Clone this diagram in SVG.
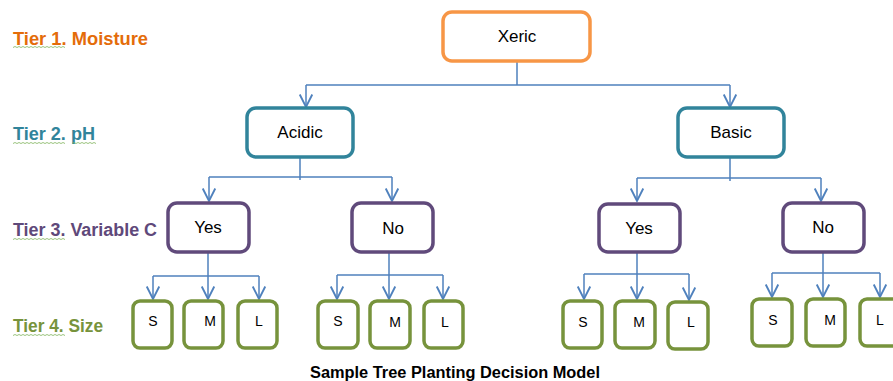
<svg xmlns="http://www.w3.org/2000/svg" width="893" height="381" viewBox="0 0 893 381">
<style>
.bg{fill:#ffffff}
.box{fill:#ffffff;stroke-width:3.5}
.t1{stroke:#F79646}
.t2{stroke:#31849B}
.t3{stroke:#604A7B}
.t4{stroke:#77933C}
.lbl{font-family:"Liberation Sans","Open Sans",sans-serif;font-size:17px;fill:#000;text-anchor:middle}
.sm{font-family:"Liberation Sans","Open Sans",sans-serif;font-size:14px;fill:#000;text-anchor:middle}
.tier{font-family:"Liberation Sans","Open Sans",sans-serif;font-size:17.5px;font-weight:bold}
.cap{font-family:"Liberation Sans","Open Sans",sans-serif;font-size:16px;font-weight:bold;fill:#000}
.con{fill:none;stroke:#4F81BD;stroke-width:1.5}
.arr{fill:none;stroke:#4F81BD;stroke-width:1.5;marker-end:url(#ah)}
.sq{fill:none;stroke:#7FB35A;stroke-width:0.8}
</style>
<defs>
<marker id="ah" markerUnits="userSpaceOnUse" markerWidth="20" markerHeight="20" viewBox="-12 -8 14 16" refX="0" refY="0" orient="auto" overflow="visible">
<path d="M-10,-5 L0,0 L-10,5" fill="none" stroke="#4F81BD" stroke-width="1.5"/>
</marker>
</defs>
<rect class="bg" x="0" y="0" width="893" height="381"/>

<g id="tier-labels">
<text class="tier" x="13" y="45" fill="#E46C0A" textLength="135" lengthAdjust="spacingAndGlyphs">Tier 1. Moisture</text>
<text class="tier" x="13" y="140" fill="#31849B" textLength="82" lengthAdjust="spacingAndGlyphs">Tier 2. pH</text>
<text class="tier" x="13" y="236" fill="#5F497A" textLength="144" lengthAdjust="spacingAndGlyphs">Tier 3. Variable C</text>
<text class="tier" x="13" y="332" fill="#77933C" textLength="90" lengthAdjust="spacingAndGlyphs">Tier 4. Size</text>
<path class="sq" d="M13,47.5 l2,-1 l2,1 l2,-1 l2,1 l2,-1 l2,1 l2,-1 l2,1 l2,-1 l2,1 l2,-1 l2,1 l2,-1 l2,1 l2,-1 l2,1 l2,-1 l2,1 l2,-1 l2,1 l2,-1 l2,1 l2,-1 l2,1 l2,-1 l2,1"/>
<path class="sq" d="M13,143.5 l2,-1 l2,1 l2,-1 l2,1 l2,-1 l2,1 l2,-1 l2,1 l2,-1 l2,1 l2,-1 l2,1 l2,-1 l2,1 l2,-1 l2,1 l2,-1 l2,1 l2,-1 l2,1 l2,-1 l2,1 l2,-1 l2,1 l2,-1 l2,1 M72,143.5 l2,-1 l2,1 l2,-1 l2,1 l2,-1 l2,1 l2,-1 l2,1 l2,-1 l2,1 l2,-1 l2,1"/>
<path class="sq" d="M13,239.5 l2,-1 l2,1 l2,-1 l2,1 l2,-1 l2,1 l2,-1 l2,1 l2,-1 l2,1 l2,-1 l2,1 l2,-1 l2,1 l2,-1 l2,1 l2,-1 l2,1 l2,-1 l2,1 l2,-1 l2,1 l2,-1 l2,1 l2,-1 l2,1"/>
<path class="sq" d="M13,335.5 l2,-1 l2,1 l2,-1 l2,1 l2,-1 l2,1 l2,-1 l2,1 l2,-1 l2,1 l2,-1 l2,1 l2,-1 l2,1 l2,-1 l2,1 l2,-1 l2,1 l2,-1 l2,1 l2,-1 l2,1 l2,-1 l2,1 l2,-1 l2,1"/>
</g>

<g id="connectors">
<path class="con" d="M517,61 V85 M306,85 H730"/>
<path class="arr" d="M306,85 V107"/>
<path class="arr" d="M730,85 V107"/>
<path class="con" d="M300,157 V180 M209,177 H392"/>
<path class="arr" d="M209,177 V201"/>
<path class="arr" d="M392,177 V201"/>
<path class="con" d="M730,157 V181 M637,178 H821"/>
<path class="arr" d="M637,178 V201"/>
<path class="arr" d="M821,178 V201"/>
<path class="con" d="M153,276 H259"/>
<path class="arr" d="M208,252 V299"/>
<path class="arr" d="M153,276 V299"/>
<path class="arr" d="M259,276 V299"/>
<path class="con" d="M337,275 H443"/>
<path class="arr" d="M389,252 V299"/>
<path class="arr" d="M337,275 V299"/>
<path class="arr" d="M443,275 V299"/>
<path class="con" d="M584,274 H689"/>
<path class="arr" d="M637,252 V299"/>
<path class="arr" d="M584,274 V299"/>
<path class="arr" d="M689,274 V300"/>
<path class="con" d="M772,273 H880"/>
<path class="arr" d="M823,252 V297"/>
<path class="arr" d="M772,273 V297"/>
<path class="arr" d="M880,273 V297"/>
</g>

<g id="xeric"><rect class="box t1" x="443" y="12" width="147" height="49" rx="9"/><text class="lbl" x="517" y="42">Xeric</text></g>
<g id="acidic"><rect class="box t2" x="247" y="108" width="106" height="49" rx="9"/><text class="lbl" x="300" y="138">Acidic</text></g>
<g id="basic"><rect class="box t2" x="678" y="108" width="106" height="49" rx="9"/><text class="lbl" x="731" y="138">Basic</text></g>

<g id="yes-left"><rect class="box t3" x="168" y="203" width="81" height="49" rx="9"/><text class="lbl" x="208" y="233">Yes</text></g>
<g id="no-left"><rect class="box t3" x="352" y="203" width="81" height="49" rx="9"/><text class="lbl" x="393" y="234">No</text></g>
<g id="yes-right"><rect class="box t3" x="599" y="204" width="81" height="48" rx="9"/><text class="lbl" x="639" y="234">Yes</text></g>
<g id="no-right"><rect class="box t3" x="783" y="203" width="81" height="49" rx="9"/><text class="lbl" x="823" y="233">No</text></g>

<g id="s1"><rect class="box t4" x="133" y="301" width="39" height="47" rx="7"/><text class="sm" x="153" y="326">S</text></g>
<g id="m1"><rect class="box t4" x="184" y="301" width="39" height="47" rx="7"/><text class="sm" x="210" y="326">M</text></g>
<g id="l1"><rect class="box t4" x="238" y="301" width="39" height="47" rx="7"/><text class="sm" x="259" y="326">L</text></g>

<g id="s2"><rect class="box t4" x="318" y="301" width="40" height="47" rx="7"/><text class="sm" x="338" y="326">S</text></g>
<g id="m2"><rect class="box t4" x="370" y="301" width="40" height="47" rx="7"/><text class="sm" x="395" y="327">M</text></g>
<g id="l2"><rect class="box t4" x="424" y="301" width="39" height="47" rx="7"/><text class="sm" x="445" y="327">L</text></g>

<g id="s3"><rect class="box t4" x="563" y="301" width="39" height="47" rx="7"/><text class="sm" x="583" y="327">S</text></g>
<g id="m3"><rect class="box t4" x="615" y="301" width="40" height="47" rx="7"/><text class="sm" x="639" y="327">M</text></g>
<g id="l3"><rect class="box t4" x="668" y="302" width="40" height="47" rx="7"/><text class="sm" x="691" y="327">L</text></g>

<g id="s4"><rect class="box t4" x="752" y="299" width="40" height="47" rx="7"/><text class="sm" x="773" y="325">S</text></g>
<g id="m4"><rect class="box t4" x="806" y="299" width="39" height="47" rx="7"/><text class="sm" x="830" y="325">M</text></g>
<g id="l4"><rect class="box t4" x="860" y="299" width="40" height="47" rx="7"/><text class="sm" x="880" y="325">L</text></g>

<text class="cap" x="310" y="378" textLength="290" lengthAdjust="spacingAndGlyphs">Sample Tree Planting Decision Model</text>
</svg>
